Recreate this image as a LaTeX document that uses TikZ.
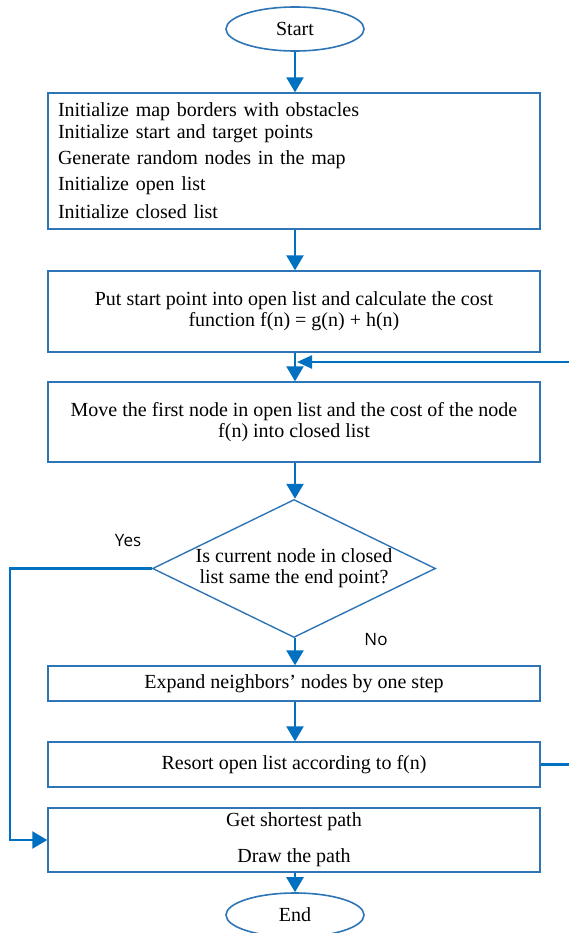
\documentclass[tikz,border=0pt]{standalone}
\usepackage{fontspec}
\setmainfont{Liberation Serif}
\newfontfamily\labelfont{Open Sans}
\usetikzlibrary{shapes.geometric,arrows.meta}
\definecolor{flowblue}{HTML}{0070C0}
\definecolor{edgeblue}{HTML}{2E75B6}
\begin{document}
\begin{tikzpicture}[x=1pt,y=-1pt,
  txt/.style={font=\fontsize{20}{21}\selectfont},
  box/.style={txt, draw=edgeblue, line width=1.4pt, minimum width=492pt,
    inner sep=0pt, align=center},
  term/.style={txt, ellipse, draw=edgeblue, line width=1.6pt,
    minimum width=138pt, minimum height=44pt, inner sep=0pt},
  decision/.style={txt, diamond, draw=edgeblue, line width=1.4pt, aspect=2.05,
    minimum width=283pt, minimum height=138pt, inner sep=0pt, align=center},
  conn/.style={draw=flowblue, line width=2.4pt,
    -{Triangle[width=17pt,length=15pt]}},
  answer/.style={font=\labelfont\fontsize{17}{19}\selectfont}]
\useasboundingbox (0,0) rectangle (568,933);

% terminals
\node[term] (start) at (295,29) {Start};
\node[term] (end) at (295,915) {End};

% process boxes
\node[box, minimum height=136pt, text width=472pt, align=left] (init) at (294,161)
  {Initialize map borders with obstacles\\[1pt]
   Initialize start and target points\\[5pt]
   Generate random nodes in the map\\[5pt]
   Initialize open list\\[7pt]
   Initialize closed list};
\node[box, minimum height=81pt] (put) at (294,311.5)
  {Put start point into open list and calculate the cost\\
   function f(n) = g(n) + h(n)};
\node[box, minimum height=80pt] (move) at (294,422)
  {Move the first node in open list and the cost of the node\\
   f(n) into closed list};
\node[decision] (dec) at (294,568.5)
  {Is current node in closed\\ list same the end point?};
\node[box, minimum height=35pt] (expand) at (294,683.5)
  {Expand neighbors’ nodes by one step};
\node[box, minimum height=45pt] (resort) at (294,764.5)
  {Resort open list according to f(n)};
\node[box, minimum height=64pt] (get) at (294,840)
  {Get shortest path\\[15pt] Draw the path};

% branch labels
\node[answer] (yes) at (128,541) {Yes};
\node[answer] (no) at (376,640) {No};

% main flow
\draw[conn] (start.south) -- (start.south |- init.north);
\draw[conn] (init.south -| start.south) -- (put.north -| start.south);
\draw[conn] (put.south -| start.south) -- (move.north -| start.south);
\draw[conn] (move.south -| start.south) -- (dec.north -| start.south);
\draw[conn] (dec.south -| start.south) -- (expand.north -| start.south);
\draw[conn] (expand.south -| start.south) -- (resort.north -| start.south);
\draw[conn] (get.south -| start.south) -- (end.north);

% loop back from re-sorting to the merge point
\coordinate (merge) at (297,362);
\coordinate (loopdown) at (585,764.5);
\coordinate (loopup) at (585,362);
\draw[conn, -{Triangle[width=13pt,length=15pt]}]
  (resort.east) -- (loopdown) -- (loopup) -- (merge);

% goal reached branch
\coordinate (yesbend) at (10,568.5);
\draw[conn] (dec.west) -- (yesbend) |- (get.west);
\end{tikzpicture}
\end{document}
